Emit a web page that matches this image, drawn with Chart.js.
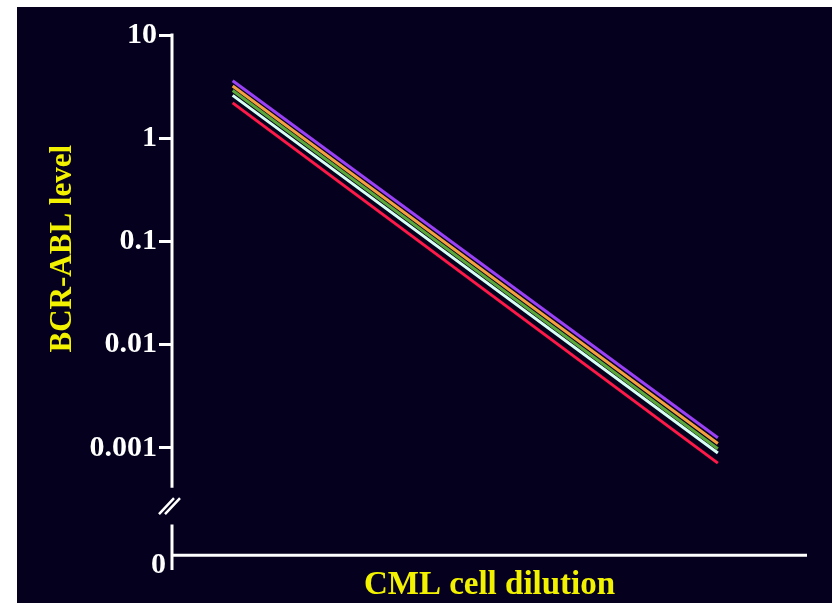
<!DOCTYPE html>
<html>
<head>
<meta charset="utf-8">
<script src="https://cdn.jsdelivr.net/npm/chart.js@4"></script>
<style>
  body { margin: 0; background: #ffffff; }
  #box { position: absolute; left: 17px; top: 7px; width: 815px; height: 596px; background: #04001e; }
</style>
</head>
<body>
<div id="box"><canvas id="bcrView"></canvas></div>
<script>
// dados
const dilutionSteps = [1, 9];                    // inicio e fim de cada reta (eixo x)
const seriesNames = ["s1", "s2", "s3", "s4", "s5"];
const levelStart = [3.6, 3.2, 2.9, 2.6, 2.2];    // BCR-ABL no inicio
const levelEnd = [0.00125, 0.0011, 0.00098, 0.00089, 0.00071]; // BCR-ABL no fim
const seriesColors = ["#9a40f5", "#f5a040", "#5aa83a", "#d8fff4", "#ff1848"];

// eixo y
const tickValues = [0.001, 0.01, 0.1, 1, 10];
const tickLabels = ["0.001", "0.01", "0.1", "1", "10"];
const zeroLabel = "0";
const yBottom = 0.0000741;   // posicao do "0" (eixo quebrado)
const yTop = 10;
const breakTop = 0.00041;    // inicio da quebra
const breakBottom = 0.000181; // fim da quebra
const xAxisAt = 0.000091;    // altura da linha do eixo x

// eixo x
const xMin = 0;
const xMax = 10.47;

// ____________________________________________________________________

// plugin para desenhar os eixos com quebra, o "0" e o titulo vertical
const brokenAxis = {
    id: "brokenAxis",
    afterDraw(chart) {
        const { ctx, scales: { x, y } } = chart;
        const left = x.left;
        const gapTop = y.getPixelForValue(breakTop);
        const gapBottom = y.getPixelForValue(breakBottom);
        const base = y.getPixelForValue(xAxisAt);

        ctx.save();
        ctx.strokeStyle = "#ffffff";
        ctx.lineWidth = 3;
        ctx.beginPath();
        ctx.moveTo(left, y.getPixelForValue(yTop) - 1.5);
        ctx.lineTo(left, gapTop);
        ctx.moveTo(left, gapBottom);
        ctx.lineTo(left, y.bottom + 3);
        ctx.moveTo(left - 1.5, base);
        ctx.lineTo(x.right, base);
        ctx.stroke();

        // marcas da quebra "//"
        const mid = (gapTop + gapBottom) / 2;
        ctx.lineWidth = 2.5;
        ctx.beginPath();
        for (const dx of [-3, 3]) {
            ctx.moveTo(left - 10 + dx, mid + 8);
            ctx.lineTo(left + 5 + dx, mid - 8);
        }
        ctx.stroke();

        // rotulo "0" (sem marca de tick, colado ao eixo)
        ctx.fillStyle = "#ffffff";
        ctx.font = "bold 30px 'Liberation Serif'";
        ctx.textAlign = "right";
        ctx.textBaseline = "middle";
        ctx.fillText(zeroLabel, left - 6, y.getPixelForValue(yBottom) + 1);

        // titulo do eixo y
        ctx.fillStyle = "#f2f200";
        ctx.font = "bold 31px 'Liberation Serif'";
        ctx.textAlign = "center";
        ctx.translate(46, y.getPixelForValue(0.085));
        ctx.rotate(-Math.PI / 2);
        ctx.fillText("BCR-ABL level", 0, 0);
        ctx.restore();
    }
};

// montando os datasets
const datasets = seriesNames.map((name, i) => ({
    label: name,
    data: [
        { x: dilutionSteps[0], y: levelStart[i] },
        { x: dilutionSteps[1], y: levelEnd[i] },
    ],
    borderColor: seriesColors[i],
    borderWidth: 3,
    pointRadius: 0,
    tension: 0,
}));

const bcrCtx = document.getElementById("bcrView").getContext("2d");
Chart.defaults.font.family = "'Liberation Serif'";

const bcrChart = new Chart(bcrCtx, {
    type: "line",
    data: { datasets: datasets },
    plugins: [brokenAxis],
    options: {
        responsive: true,
        maintainAspectRatio: false,
        animation: false,
        layout: { padding: { top: 28, right: 25, left: 0, bottom: 0 } },
        plugins: {
            legend: { display: false },
            tooltip: { enabled: false },
        },
        scales: {
            x: {
                type: "linear",
                min: xMin,
                max: xMax,
                ticks: { display: false },
                grid: { display: false },
                border: { display: false },
                title: {
                    display: true,
                    text: "CML cell dilution",
                    color: "#f2f200",
                    font: { size: 33, weight: "bold", lineHeight: 1 },
                    padding: { top: 0, bottom: 1 },
                },
                afterFit: (scale) => { scale.height = 36; },
            },
            y: {
                type: "logarithmic",
                min: yBottom,
                max: yTop,
                afterBuildTicks: (scale) => {
                    scale.ticks = [yBottom, ...tickValues].map(v => ({ value: v }));
                },
                afterFit: (scale) => { scale.width = 155; },
                ticks: {
                    color: "#ffffff",
                    font: { size: 30, weight: "bold" },
                    padding: 2,
                    autoSkip: false,
                    callback: (value, index) => index === 0 ? "" : tickLabels[index - 1],
                },
                grid: {
                    drawOnChartArea: false,
                    drawTicks: true,
                    tickLength: 13,
                    tickWidth: 3,
                    tickColor: (c) => (c.tick && c.tick.value === yBottom) ? "rgba(0,0,0,0)" : "#ffffff",
                },
                border: { display: false },
            },
        },
    },
});
</script>
</body>
</html>
